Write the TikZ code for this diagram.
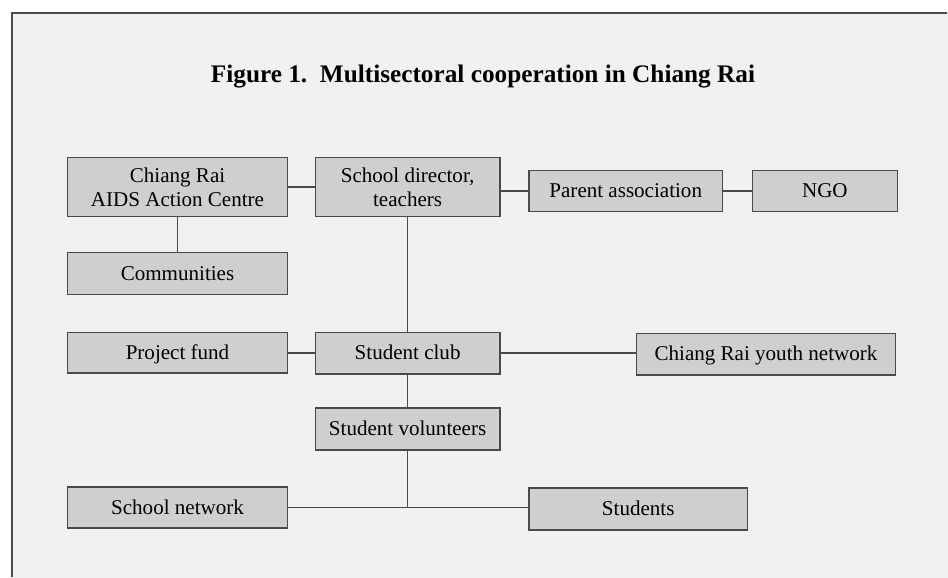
\documentclass[tikz,border=0pt]{standalone}
\usepackage{fontspec}
\setmainfont{Liberation Serif}
\usepackage{tikz}
\usetikzlibrary{positioning}
\definecolor{BoxGray}{HTML}{CFCFCF}
\definecolor{LineGray}{HTML}{4A4A4A}
\definecolor{PaperGray}{HTML}{F1F1F1}

\begin{document}
\begin{tikzpicture}[x=0.025cm, y=-0.025cm,
                      every node/.style={draw=LineGray, line width=1pt, align=center,
                                         fill=BoxGray, inner sep=0pt,
                                         font=\fontsize{15}{17}\selectfont},
                      oneline/.style={text height=12pt, text depth=2.5pt},
                      every path/.style={draw=LineGray, line width=1.2pt}]
  \useasboundingbox (0,0) rectangle (948,577);
  \fill[white] (0,0) rectangle (948,577);
  \fill[PaperGray] (11,12) rectangle (948,577);
  \draw (11,577) -- (11,12) -- (948,12);
  \node[draw=none, fill=none, font=\fontsize{18}{20}\selectfont\bfseries] (title) at (483,76)
       {Figure 1.\ \ Multisectoral cooperation in Chiang Rai};
  \node[minimum width=5.5cm, minimum height=1.475cm] (aids) at (177,186.5) {Chiang Rai\\AIDS Action Centre};
  \node[minimum width=4.625cm, minimum height=1.475cm] (director) at (407.5,186.5) {School director,\\teachers};
  \node[oneline, minimum width=4.85cm, minimum height=1.025cm] (parent) at (626,190.5) {Parent association};
  \node[oneline, minimum width=3.625cm, minimum height=1.025cm] (ngo) at (825.5,190.5) {NGO};
  \node[oneline, minimum width=5.5cm, minimum height=1.05cm] (comm) at (177,273) {Communities};
  \node[oneline, minimum width=5.5cm, minimum height=1.025cm] (fund) at (177,352.5) {Project fund};
  \node[oneline, minimum width=4.625cm, minimum height=1.05cm] (club) at (407.5,353) {Student club};
  \node[oneline, minimum width=6.475cm, minimum height=1.05cm] (youth) at (766.5,354) {Chiang Rai youth network};
  \node[oneline, minimum width=4.625cm, minimum height=1.05cm] (vol) at (407.5,429) {Student volunteers};
  \node[oneline, minimum width=5.5cm, minimum height=1.025cm] (schoolnet) at (177,507.5) {School network};
  \node[oneline, minimum width=5.475cm, minimum height=1.05cm] (students) at (638.5,509) {Students};
  \coordinate (jn) at (vol |- schoolnet);
  \draw (aids) -- (director);
  \draw (parent.west) -- (parent.west -| director.east);
  \draw (parent) -- (ngo);
  \draw (aids) -- (comm);
  \draw (director) -- (club);
  \draw (fund.east) -- (fund.east -| club.west);
  \draw (club.east) -- (club.east -| youth.west);
  \draw (club) -- (vol);
  \draw (vol) -- (jn);
  \draw (schoolnet.east) -- (schoolnet.east -| students.west);
\end{tikzpicture}
\end{document}
